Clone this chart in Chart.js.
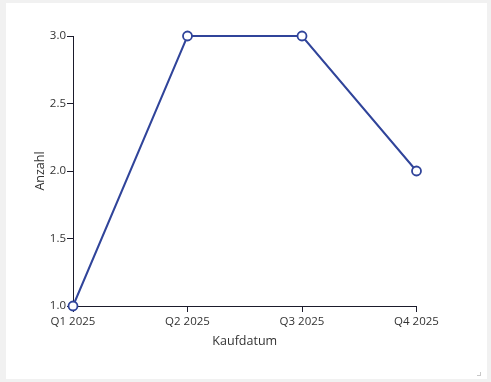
<!DOCTYPE html>
<html>
<head>
<meta charset="utf-8">
<script src="https://cdn.jsdelivr.net/npm/chart.js@4.4.0/dist/chart.umd.min.js"></script>
<style>
  html, body { margin: 0; padding: 0; background: #f1f1f1; width: 491px; height: 382px; overflow: hidden; }
  #card { position: absolute; left: 6px; top: 3px; width: 481px; height: 376px; background: #ffffff; }
  #card canvas { position: absolute; left: 0; top: 0; }
  #grip { position: absolute; left: 471px; top: 369px; width: 3px; height: 3px; border-right: 1px solid #c8c8c8; border-bottom: 1px solid #c8c8c8; }
</style>
</head>
<body>
<div id="card">
  <canvas id="c" width="481" height="376"></canvas>
  <div id="grip"></div>
</div>
<script>
const categories = ["Q1 2025", "Q2 2025", "Q3 2025", "Q4 2025"];
const anzahl = [1, 3, 3, 2];
const xTitle = "Kaufdatum";
const yTitle = "Anzahl";

const fontFamily = "'Open Sans', 'Noto Sans', sans-serif";
const axisColor = "#1b1b2b";
const textColor = "#333333";

new Chart(document.getElementById("c"), {
  type: "line",
  data: {
    labels: categories,
    datasets: [{
      data: anzahl,
      borderColor: "#30449a",
      borderWidth: 2,
      pointBackgroundColor: "#ffffff",
      pointBorderColor: "#30449a",
      pointBorderWidth: 1.8,
      pointRadius: 4.5,
      tension: 0,
      fill: false,
      clip: false
    }]
  },
  options: {
    responsive: false,
    animation: false,
    devicePixelRatio: 1,
    layout: { padding: { left: 0, top: 33, right: 70.5, bottom: 23 } },
    plugins: { legend: { display: false }, tooltip: { enabled: false } },
    scales: {
      x: {
        type: "category",
        offset: false,
        afterFit: s => { s.height = 50; },
        grid: { display: true, drawOnChartArea: false, drawTicks: true, tickLength: 6, color: axisColor },
        border: { display: true, color: axisColor, width: 1 },
        ticks: { color: textColor, padding: 2.5, maxRotation: 0, autoSkip: false, font: { family: fontFamily, size: 11.5 } },
        title: { display: true, text: xTitle, color: textColor, padding: { top: 0, bottom: 6.8 }, font: { family: fontFamily, size: 12.5 } }
      },
      y: {
        min: 1,
        max: 3,
        afterFit: s => { s.width = 67; },
        grid: { display: true, drawOnChartArea: false, drawTicks: true, tickLength: 6, color: axisColor },
        border: { display: true, color: axisColor, width: 1 },
        ticks: { stepSize: 0.5, color: textColor, padding: 1, font: { family: fontFamily, size: 11.5 },
                 callback: v => Number(v).toFixed(1) },
        title: { display: true, text: yTitle, color: textColor, padding: { top: 27, bottom: 0 }, font: { family: fontFamily, size: 12.5 } }
      }
    }
  }
});
</script>
</body>
</html>
